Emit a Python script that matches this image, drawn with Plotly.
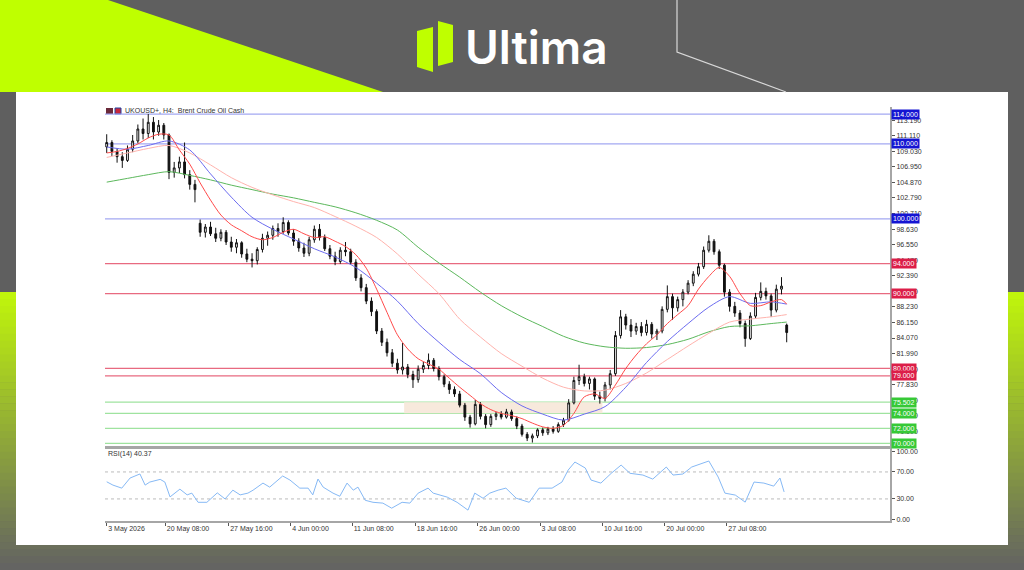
import plotly.graph_objects as go

# ---------------- data ----------------
chart_title = "UKOUSD+, H4:  Brent Crude Oil Cash"
rsi_title = "RSI(14) 40.37"
brand = "Ultima"

opens = [109.6,110.2,109.0,108.3,107.8,109.3,110.4,112.0,111.4,112.9,
         111.6,112.5,111.2,106.2,106.8,107.6,105.9,104.6,99.4,98.2,
         98.9,98.0,97.4,98.2,96.9,96.2,96.8,95.3,94.6,94.4,
         95.9,97.4,97.8,98.7,98.3,99.5,98.1,97.0,96.1,95.4,
         97.2,98.6,97.5,96.0,95.0,94.3,95.8,95.6,94.2,92.1,
         90.8,89.0,87.6,85.0,83.5,82.1,80.7,79.8,80.2,79.2,
         78.5,79.9,80.4,81.1,80.0,78.9,77.9,77.2,76.6,75.1,
         73.5,72.6,75.2,73.6,72.5,73.6,73.9,73.5,74.2,73.3,
         72.3,71.2,70.7,71.0,71.8,71.4,71.9,71.6,72.5,73.1,
         75.4,78.4,78.9,78.0,78.6,76.3,76.0,77.8,79.3,84.4,
         86.9,85.8,85.0,85.6,84.8,85.9,84.6,85.0,87.9,89.6,
         88.1,89.2,90.2,91.4,92.6,93.6,95.8,97.0,95.6,93.8,
         90.2,88.3,87.4,86.0,84.0,87.0,89.5,90.3,89.7,87.8,
         90.6,85.8]
highs = [111.3,110.5,109.4,108.9,109.8,111.2,112.6,113.4,114.0,113.6,
         113.2,112.8,111.4,107.6,108.3,110.2,106.5,105.2,99.9,99.3,
         99.6,98.8,98.6,98.5,97.6,97.3,97.0,96.0,95.4,96.2,
         98.0,98.3,99.1,99.4,100.2,99.8,98.6,97.4,96.8,97.6,
         99.1,99.3,97.9,96.5,95.6,96.2,96.9,96.0,94.6,92.6,
         91.3,89.5,87.9,85.4,84.0,82.6,81.3,83.4,80.6,79.7,
         80.4,80.9,82.0,81.4,80.3,79.2,78.3,77.6,77.0,75.4,
         73.8,75.8,75.5,73.9,73.9,74.2,74.3,74.6,74.5,73.6,
         72.6,71.5,71.3,72.0,72.1,72.2,72.3,72.8,73.4,75.9,
         78.9,80.5,79.3,78.9,78.8,76.9,78.2,79.8,85.0,87.8,
         87.3,86.6,86.1,86.2,86.5,86.2,85.3,88.3,91.1,90.0,
         89.6,90.6,91.8,93.0,94.1,96.3,97.8,97.3,95.9,94.0,
         90.6,88.9,87.8,86.4,87.5,90.1,91.5,90.8,90.0,91.2,
         92.2,86.0]
lows = [108.8,108.4,107.5,106.8,107.6,108.9,110.1,110.6,110.8,110.6,
        111.1,110.6,105.3,105.5,106.1,105.4,103.9,102.2,97.6,97.5,
        97.7,96.9,97.0,96.5,95.6,95.4,94.8,94.2,93.5,93.9,
        95.5,96.4,97.2,97.6,98.0,97.8,96.4,95.6,94.9,95.0,
        96.8,97.1,95.7,94.6,93.8,94.0,95.0,93.9,91.7,90.3,
        88.6,87.0,84.6,83.0,81.6,80.2,79.3,79.2,78.7,77.4,
        78.1,79.4,79.9,79.6,78.4,77.5,76.6,76.2,74.8,73.0,
        72.1,72.4,73.2,72.0,72.2,73.1,73.2,73.3,73.0,71.9,
        70.9,70.3,70.1,70.7,71.0,71.1,71.3,71.4,72.2,72.9,
        75.2,77.8,77.6,77.2,75.8,75.3,75.6,77.2,79.0,84.0,
        85.2,84.2,84.5,84.3,84.4,84.0,83.8,84.7,87.5,86.5,
        87.6,88.3,89.9,91.0,92.3,93.3,95.5,95.2,93.3,89.6,
        87.6,86.9,85.5,82.9,83.8,86.7,89.1,89.2,86.9,87.5,
        89.9,83.5]
closes = [110.2,109.0,108.3,107.8,109.3,110.4,112.0,111.4,112.9,111.6,
          112.5,111.2,106.2,106.8,107.6,105.9,104.6,103.9,98.2,98.9,
          98.0,97.4,98.2,96.9,96.2,96.8,95.3,94.6,94.4,95.9,
          97.4,97.8,98.7,98.3,99.5,98.1,97.0,96.1,95.4,97.2,
          98.6,97.5,96.0,95.0,94.3,95.8,95.6,94.2,92.1,90.8,
          89.0,87.6,85.0,83.5,82.1,80.7,79.8,80.2,79.2,78.5,
          79.9,80.4,81.1,80.0,78.9,77.9,77.2,76.6,75.1,73.5,
          72.6,75.2,73.6,72.5,73.6,73.9,73.5,74.2,73.3,72.3,
          71.2,70.7,71.0,71.8,71.4,71.9,71.6,72.5,73.1,75.4,
          78.4,78.9,78.0,78.6,76.3,76.0,77.8,79.3,84.4,86.9,
          85.8,85.0,85.6,84.8,85.9,84.6,85.0,87.9,89.6,88.1,
          89.2,90.2,91.4,92.6,93.6,95.8,97.0,95.6,93.8,90.2,
          88.3,87.4,86.0,84.0,87.0,89.5,90.3,89.7,87.8,90.6,
          91.0,84.8]
candle_x = list(range(len(closes)))

# moving averages (read at bar positions)
ma_fast_x = list(range(0, 131, 2)) + [131]
ma_fast = [108.8,109.0,109.4,110.0,110.8,111.3,111.2,109.2,107.3,104.8,
           102.5,100.5,99.2,98.4,97.6,97.2,97.5,98.2,98.6,98.0,
           97.5,97.6,97.0,96.3,95.2,93.4,90.6,87.5,84.5,82.6,
           81.3,80.6,79.9,78.7,77.5,76.4,75.3,74.5,74.0,73.7,
           73.3,72.7,72.2,72.0,72.4,74.0,76.2,76.6,76.0,77.8,
           80.0,81.8,83.3,84.5,86.0,87.2,88.4,90.6,92.3,93.5,
           92.3,90.0,88.4,88.4,88.9,89.2,88.6]
ma_slow_x = list(range(0, 129, 4)) + [131]
ma_mid = [109.6,109.3,109.8,110.4,109.2,106.0,102.9,100.2,98.6,97.3,
          96.0,94.9,93.5,91.4,89.0,86.0,83.5,81.2,79.3,76.8,
          75.0,73.9,73.1,73.9,74.9,77.5,80.8,83.6,86.0,88.2,
          89.6,88.7,88.9,88.6]
ma_slow = [108.2,108.8,109.4,109.8,108.8,107.2,105.5,104.2,103.2,102.3,
           101.5,100.3,99.0,97.5,95.3,92.6,90.0,86.6,84.2,82.0,
           80.3,78.7,77.5,77.0,77.1,78.0,79.4,81.2,83.0,84.7,
           86.2,86.6,86.9,87.2]
ma_long = [104.9,105.4,105.9,106.3,105.8,105.2,104.5,103.9,103.3,102.8,
           102.2,101.6,100.8,99.8,98.5,96.2,94.1,92.2,90.2,88.4,
           86.9,85.6,84.3,83.4,82.9,82.7,82.8,83.2,83.9,84.9,
           85.6,85.7,86.0,86.2]

rsi_x = [0.0,1.2,2.9,4.5,6.4,7.4,8.3,10.3,11.2,12.2,14.1,15.5,16.4,17.6,19.3,
         21.3,22.8,24.3,25.7,27.2,28.2,30.1,31.4,33.9,35.3,37.2,38.8,39.7,40.7,
         41.7,43.6,44.9,46.3,47.5,48.4,49.8,51.3,53.2,54.9,56.9,58.4,60.0,61.9,
         62.9,65.6,67.5,69.6,70.9,72.5,73.8,75.4,76.9,78.9,81.4,83.3,85.8,87.7,
         88.9,90.2,92.2,93.3,95.2,97.2,99.1,100.8,103.3,105.2,107.8,109.1,111.0,
         112.7,116.0,117.8,119.1,121.1,123.0,124.7,126.6,128.5,129.7,130.5]
rsi_vals = [55.4,50.5,46,61,67,50.5,55,59,55,33,44.5,36,38.6,25,25,
            39,30,43,36,38.6,43,53.5,47.5,64,58,46,46,36,59.5,
            47.5,38.6,34,53.5,43,47.5,28,25,23.8,16.3,25,23.8,38.6,46,
            38.6,32.7,25,13.4,38.6,31,38.6,43,46,31,25,46,46,55,
            72.8,84.7,75.8,58,53.5,68,80.2,68,65.4,59.4,77.3,65.4,66.9,
            77.3,86.2,62.4,38.6,35.7,25.3,55,53.5,49,61,40.37]

x_tick_pos = [0, 11.29, 23.5, 35.45, 47.3, 59.46, 71.48, 83.49, 95.49, 107.5, 119.46]
x_tick_text = ["3 May 2026", "20 May 08:00", "27 May 16:00", "4 Jun 00:00",
               "11 Jun 08:00", "18 Jun 16:00", "26 Jun 00:00", "3 Jul 08:00",
               "10 Jul 16:00", "20 Jul 00:00", "27 Jul 08:00"]
price_ticks = [113.19, 111.11, 109.03, 106.95, 104.87, 102.79, 100.71, 98.63,
               96.55, 94.47, 92.39, 90.31, 88.23, 86.15, 84.07, 81.99, 79.91,
               77.83, 75.75, 73.67, 71.59]
rsi_ticks = [0, 30, 70, 100]
rsi_levels = [30, 70]

levels_blue = [114.0, 110.0, 100.0]
levels_red = [94.0, 90.0, 80.0, 79.0]
levels_green = [75.502, 74.0, 72.0, 70.0]
zone_x = [57.3, 95.5]
zone_y = [74.0, 75.502]

# ---------------- helpers (page pixel -> paper) ----------------
W, H = 1024, 570
def PX(x): return x / W
def PY(y): return 1 - y / H
def path(pts):
    s = "M " + " L ".join(f"{PX(a):.5f},{PY(b):.5f}" for a, b in pts) + " Z"
    return s

FONT = "Liberation Sans, Arial, sans-serif"
fig = go.Figure()

fig.add_trace(go.Candlestick(
    x=candle_x, open=opens, high=highs, low=lows, close=closes,
    increasing=dict(line=dict(color="#111111", width=1), fillcolor="#ffffff"),
    decreasing=dict(line=dict(color="#111111", width=1), fillcolor="#111111"),
    whiskerwidth=0, showlegend=False, hoverinfo="skip", xaxis="x", yaxis="y"))

for xs, ys, col in [(ma_slow_x, ma_long, "#5cb85c"),
                    (ma_slow_x, ma_slow, "#ffb3ad"),
                    (ma_slow_x, ma_mid, "#6c6cf0"),
                    (ma_fast_x, ma_fast, "#ff4a4a")]:
    fig.add_trace(go.Scatter(x=xs, y=ys, mode="lines",
                             line=dict(color=col, width=1, shape="spline", smoothing=0.8),
                             showlegend=False, hoverinfo="skip", xaxis="x", yaxis="y"))

fig.add_trace(go.Scatter(x=rsi_x, y=rsi_vals, mode="lines",
                         line=dict(color="#86b9f5", width=1),
                         showlegend=False, hoverinfo="skip", xaxis="x2", yaxis="y2"))

shapes = []
# page background decorations
shapes.append(dict(type="path", xref="paper", yref="paper", layer="below",
                   path=path([(0, 0), (108, 0), (383, 92), (0, 92)]),
                   fillcolor="#bfff00", line=dict(width=0)))
n = 40
top_c, bot_c = (192, 245, 12), (100, 100, 98)
y0s, y1s = 292, 570
for k in range(n):
    t = k / (n - 1)
    c = tuple(int(top_c[j] + (bot_c[j] - top_c[j]) * t) for j in range(3))
    ya = y0s + (y1s - y0s) * k / n
    yb = y0s + (y1s - y0s) * (k + 1) / n + 0.5
    shapes.append(dict(type="rect", xref="paper", yref="paper", layer="below",
                       x0=0, x1=1, y0=PY(yb), y1=PY(ya),
                       fillcolor=f"rgb{c}", line=dict(width=0)))
shapes.append(dict(type="rect", xref="paper", yref="paper", layer="below",
                   x0=PX(16), x1=PX(1008), y0=PY(545), y1=PY(92),
                   fillcolor="#ffffff", line=dict(width=0)))
shapes.append(dict(type="path", xref="paper", yref="paper", layer="below",
                   path="M {:.5f},{:.5f} L {:.5f},{:.5f} L {:.5f},{:.5f}".format(
                       PX(677), PY(0), PX(677), PY(52), PX(786), PY(92)),
                   line=dict(color="#d8d8d8", width=1.2)))
# logo icon
shapes.append(dict(type="path", xref="paper", yref="paper", layer="below",
                   path=path([(417, 31), (433, 27), (433, 72), (417, 67)]),
                   fillcolor="#bfff00", line=dict(width=0)))
shapes.append(dict(type="path", xref="paper", yref="paper", layer="below",
                   path=path([(438, 21), (453, 25), (453, 62), (438, 66)]),
                   fillcolor="#bfff00", line=dict(width=0)))
# small header icons
shapes.append(dict(type="rect", xref="paper", yref="paper", layer="below",
                   x0=PX(106), x1=PX(113), y0=PY(114), y1=PY(108),
                   fillcolor="#6a2a3a", line=dict(width=0)))
shapes.append(dict(type="rect", xref="paper", yref="paper", layer="below",
                   x0=PX(115), x1=PX(121), y0=PY(114), y1=PY(108),
                   fillcolor="#c8283c", line=dict(color="#2040a0", width=1)))

# zone
shapes.append(dict(type="rect", xref="x", yref="y", layer="below",
                   x0=zone_x[0], x1=zone_x[1], y0=zone_y[0], y1=zone_y[1],
                   fillcolor="#f7e9dc", line=dict(width=0)))
annotations = []
def level(v, lc, bg):
    shapes.append(dict(type="line", xref="x domain", yref="y", layer="below",
                       x0=0, x1=1, y0=v, y1=v, line=dict(color=lc, width=1.3)))
    annotations.append(dict(xref="paper", yref="y", x=PX(891), y=v,
                            xanchor="left", yanchor="middle", showarrow=False,
                            text=f"{v:.3f}", bgcolor=bg, borderpad=1,
                            font=dict(family=FONT, size=7, color="#ffffff")))
for v in levels_blue:
    level(v, "#a3a8f2", "#1414d2")
for v in levels_red:
    level(v, "#e86a80", "#dc1e48")
for v in levels_green:
    level(v, "#9fe39f", "#36c936")
for v in rsi_levels:
    shapes.append(dict(type="line", xref="x2 domain", yref="y2", layer="below",
                       x0=0, x1=1, y0=v, y1=v, line=dict(color="#bbbbbb", width=1, dash="dot")))

annotations.append(dict(xref="paper", yref="paper", x=PX(536), y=PY(47),
                        xanchor="center", yanchor="middle", showarrow=False,
                        text=brand, font=dict(family="Inter", size=46, color="#ffffff", weight=600)))
annotations.append(dict(xref="paper", yref="paper", x=PX(123), y=PY(111),
                        xanchor="left", yanchor="middle", showarrow=False,
                        text=chart_title, font=dict(family=FONT, size=7, color="#333333")))
annotations.append(dict(xref="paper", yref="paper", x=PX(106), y=PY(454),
                        xanchor="left", yanchor="middle", showarrow=False,
                        text=rsi_title, font=dict(family=FONT, size=7, color="#333333")))

tickfont = dict(family=FONT, size=7, color="#333333")
fig.update_layout(
    width=W, height=H, margin=dict(l=0, r=0, t=0, b=0, pad=0),
    paper_bgcolor="#5f5f5f", plot_bgcolor="rgba(0,0,0,0)",
    shapes=shapes, annotations=annotations, showlegend=False, boxgap=0.5,
    xaxis=dict(domain=[PX(105), PX(890)], range=[-0.33, 150.9], anchor="y",
               showticklabels=False, ticks="", showgrid=False, zeroline=False,
               showline=True, linecolor="#a6a6a6", linewidth=3,
               rangeslider=dict(visible=False), automargin=False),
    yaxis=dict(domain=[PY(446), PY(107)], range=[69.64, 114.94], anchor="x",
               side="right", tickvals=price_ticks,
               ticktext=[f"{v:.3f}" for v in price_ticks], tickfont=tickfont,
               ticks="outside", ticklen=3, tickcolor="#555555",
               showgrid=False, zeroline=False, showline=True,
               linecolor="#a6a6a6", linewidth=2, automargin=False),
    xaxis2=dict(domain=[PX(105), PX(890)], matches="x", anchor="y2",
                tickvals=x_tick_pos, ticktext=x_tick_text, tickfont=tickfont,
                ticklabelposition="outside right", ticks="outside", ticklen=3,
                tickcolor="#555555", showgrid=False, zeroline=False,
                showline=True, linecolor="#a6a6a6", linewidth=2, automargin=False),
    yaxis2=dict(domain=[PY(521), PY(449)], range=[-2.7, 104], anchor="x2",
                side="right", tickvals=rsi_ticks,
                ticktext=[f"{v:.2f}" for v in rsi_ticks], tickfont=tickfont,
                ticks="outside", ticklen=3, tickcolor="#555555",
                showgrid=False, zeroline=False, showline=True,
                linecolor="#a6a6a6", linewidth=2, automargin=False),
)

fig.write_html("out.html", config={"displayModeBar": False},
               post_script="document.body.style.margin='0px';document.body.style.overflow='hidden';")
